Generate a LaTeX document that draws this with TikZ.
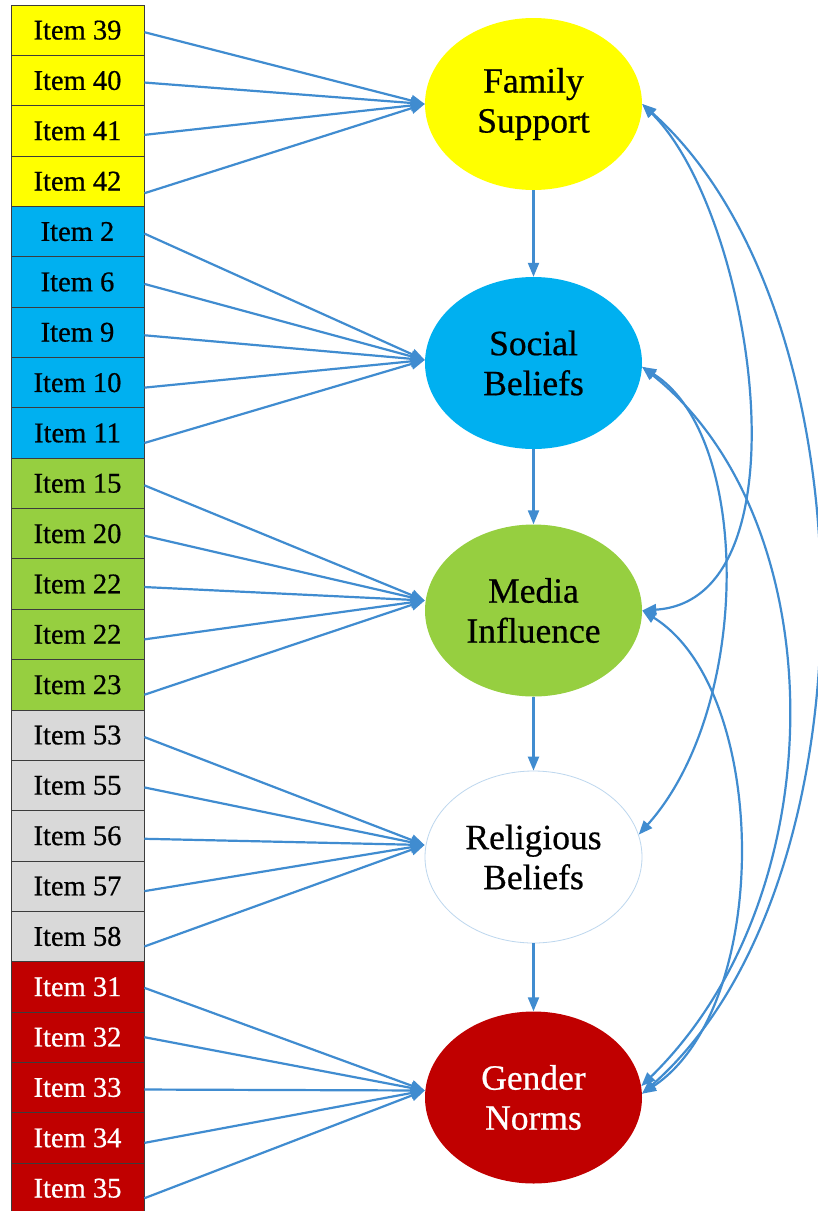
\documentclass[tikz,border=0pt]{standalone}
\usepackage{fontspec}
\setmainfont{Liberation Serif}
\newfontfamily\heavyfont{Liberation Serif}[FakeBold=0.6]
\usetikzlibrary{shapes.geometric,arrows.meta}
\definecolor{lnblue}{RGB}{64,140,208}
\definecolor{yel}{RGB}{255,255,0}
\definecolor{sky}{RGB}{0,176,240}
\definecolor{lime}{RGB}{150,207,64}
\definecolor{lgray}{RGB}{217,217,217}
\definecolor{dred}{RGB}{192,0,0}
\definecolor{edgeblue}{RGB}{189,215,238}
\definecolor{boxline}{RGB}{60,60,60}
\begin{document}
\begin{tikzpicture}[x=1pt,y=-1pt,
 itembox/.style={draw=boxline,line width=0.8pt,minimum width=133pt,minimum height=50.35pt,inner sep=0pt,font=\heavyfont\fontsize{28.5}{34}\selectfont},
 latent/.style={ellipse,minimum width=217pt,minimum height=172pt,inner sep=0pt,align=center,font=\heavyfont\fontsize{35.5}{40}\selectfont},
 link/.style={draw=lnblue,line width=2.2pt,-{Triangle[length=14pt,width=11pt]}},
 corr/.style={draw=lnblue,line width=2.2pt,{Triangle[length=14pt,width=11pt]}-{Triangle[length=14pt,width=11pt]}}]
\useasboundingbox (0,0) rectangle (818,1211);
\fill[white] (0,0) rectangle (818,1211);
% item boxes
\foreach \r/\lab/\col/\tcol in {0/39/yel/black,1/40/yel/black,2/41/yel/black,3/42/yel/black,
 4/2/sky/black,5/6/sky/black,6/9/sky/black,7/10/sky/black,8/11/sky/black,
 9/15/lime/black,10/20/lime/black,11/22/lime/black,12/22/lime/black,13/23/lime/black,
 14/53/lgray/black,15/55/lgray/black,16/56/lgray/black,17/57/lgray/black,18/58/lgray/black,
 19/31/dred/white,20/32/dred/white,21/33/dred/white,22/34/dred/white,23/35/dred/white}
 \node[itembox,fill=\col,text=\tcol] (i\r) at (77.5,{5+50.35*(\r+0.5)}) {Item \lab};
% latent variables
\node[latent,fill=yel] (F) at (533.5,104) {Family\\Support};
\node[latent,fill=sky] (S) at (533.5,363) {Social\\Beliefs};
\node[latent,fill=lime] (M) at (533.5,610.5) {Media\\Influence};
\node[latent,fill=white,draw=edgeblue,line width=0.8pt] (R) at (533.5,857) {Religious\\Beliefs};
\node[latent,fill=dred,text=white] (G) at (533.5,1097.5) {Gender\\Norms};
% indicator links
\foreach \r/\d in {0/2,1/2,2/4,3/12}
 \draw[link] ([yshift=-\d pt]i\r.east) -- (F.west);
\foreach \r/\d in {4/2,5/2,6/3,7/5,8/10}
 \draw[link] ([yshift=-\d pt]i\r.east) -- ([yshift=3pt]S.west);
\foreach \r/\d in {9/2,10/2,11/3,12/5,13/10}
 \draw[link] ([yshift=-\d pt]i\r.east) -- ([yshift=10pt]M.west);
\foreach \r/\d in {14/2,15/2,16/3,17/5,18/10}
 \draw[link] ([yshift=-\d pt]i\r.east) -- ([yshift=12pt]R.west);
\foreach \r/\d in {19/1,20/0,21/2,22/5,23/10}
 \draw[link] ([yshift=-\d pt]i\r.east) -- ([yshift=7pt]G.west);
% structural path
\draw[link] (F.south) -- (S.north);
\draw[link] (S.south) -- (M.north);
\draw[link] (M.south) -- (R.north);
\draw[link] (R.south) -- (G.north);
% correlations
\draw[corr] (F.east) .. controls (753,213) and (812,600) .. (M.east);
\draw[corr] (F.east) .. controls (874,310) and (881,884) .. (G.2);
\draw[corr] (S.-2) .. controls (752,436) and (752,708) .. (R.12);
\draw[corr] (S.-2) .. controls (834,519) and (839,893) .. (G.6);
\draw[corr] (M.east) .. controls (770,690) and (773,1007) .. (G.2);
\end{tikzpicture}
\end{document}
